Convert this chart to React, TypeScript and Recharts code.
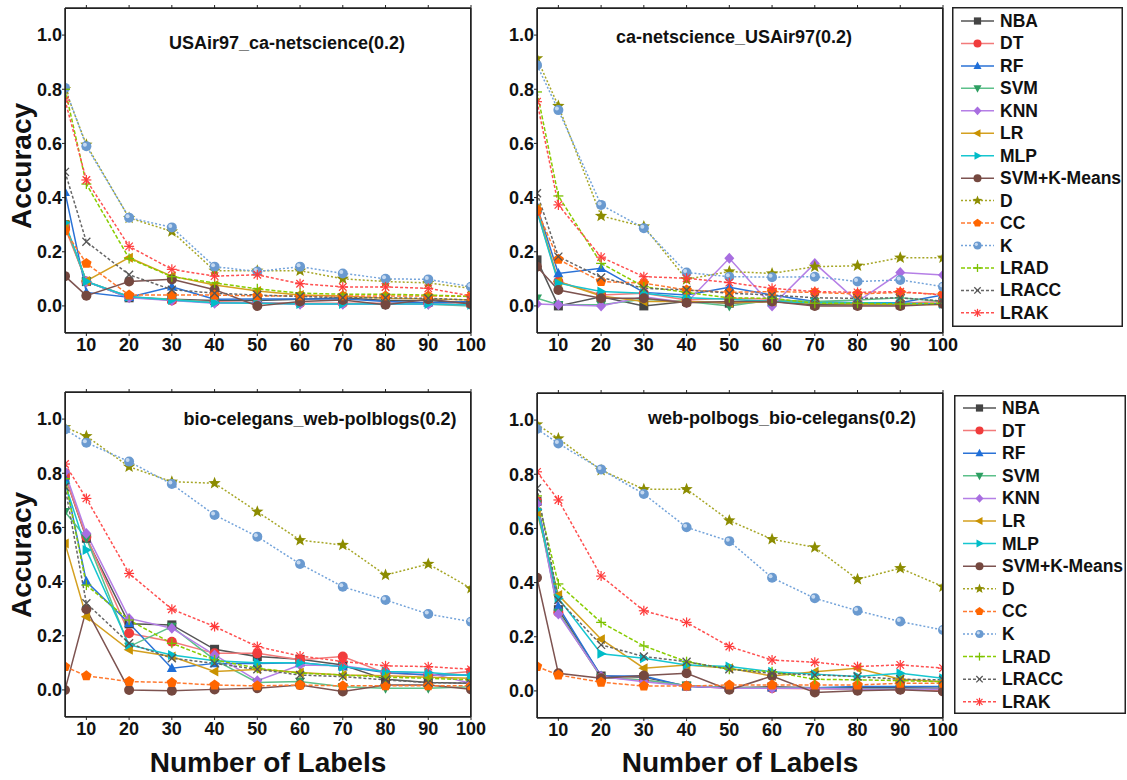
import React from 'react'
import { LineChart, Line, XAxis, YAxis } from 'recharts'

const FONT = '"Liberation Sans", Arial, Helvetica, sans-serif'

// x values (number of labels)
const labelCounts = [5, 10, 20, 30, 40, 50, 60, 70, 80, 90, 100]
const xTicks = [10, 20, 30, 40, 50, 60, 70, 80, 90, 100]
const yTicks = [0, 0.2, 0.4, 0.6, 0.8, 1.0]

const methods = ['NBA', 'DT', 'RF', 'SVM', 'KNN', 'LR', 'MLP', 'SVM+K-Means', 'D', 'CC', 'K', 'LRAD', 'LRACC', 'LRAK']

// accuracy per method, same order as `methods`
const usairCa = [
  [0.3, 0.09, 0.03, 0.025, 0.02, 0.02, 0.025, 0.03, 0.02, 0.02, 0.01],
  [0.29, 0.09, 0.035, 0.02, 0.015, 0.012, 0.01, 0.01, 0.01, 0.01, 0.005],
  [0.42, 0.05, 0.032, 0.071, 0.025, 0.026, 0.026, 0.026, 0.016, 0.012, 0.016],
  [0.3, 0.09, 0.034, 0.025, 0.012, 0.01, 0.008, 0.008, 0.006, 0.006, 0.0],
  [0.3, 0.09, 0.03, 0.02, 0.01, 0.012, 0.006, 0.006, 0.006, 0.006, 0.004],
  [0.3, 0.092, 0.178, 0.11, 0.077, 0.055, 0.04, 0.037, 0.028, 0.026, 0.022],
  [0.307, 0.09, 0.034, 0.022, 0.012, 0.01, 0.007, 0.007, 0.007, 0.007, 0.004],
  [0.11, 0.038, 0.09, 0.098, 0.06, 0.0, 0.016, 0.022, 0.004, 0.025, 0.007],
  [0.8, 0.595, 0.325, 0.275, 0.13, 0.13, 0.13, 0.1, 0.09, 0.085, 0.065],
  [0.277, 0.157, 0.04, 0.04, 0.04, 0.037, 0.037, 0.037, 0.037, 0.037, 0.035],
  [0.805, 0.59, 0.326, 0.29, 0.145, 0.127, 0.145, 0.12, 0.1, 0.098, 0.071],
  [0.8, 0.45, 0.175, 0.108, 0.085, 0.063, 0.047, 0.043, 0.043, 0.04, 0.035],
  [0.495, 0.237, 0.115, 0.06, 0.047, 0.04, 0.035, 0.03, 0.03, 0.028, 0.022],
  [0.76, 0.465, 0.22, 0.135, 0.11, 0.115, 0.082, 0.07, 0.07, 0.065, 0.037],
]

const caUsair = [
  [0.17, 0.0, 0.034, 0.0, 0.016, 0.01, 0.016, 0.004, 0.004, 0.004, 0.01],
  [0.35, 0.09, 0.04, 0.047, 0.022, 0.028, 0.025, 0.012, 0.01, 0.01, 0.016],
  [0.367, 0.12, 0.139, 0.05, 0.04, 0.069, 0.04, 0.016, 0.012, 0.012, 0.04],
  [0.028, 0.004, 0.004, 0.025, 0.016, 0.0, 0.022, 0.016, 0.022, 0.03, 0.016],
  [0.007, 0.004, 0.0, 0.034, 0.012, 0.176, 0.0, 0.157, 0.016, 0.123, 0.114],
  [0.36, 0.09, 0.037, 0.016, 0.016, 0.012, 0.016, 0.01, 0.007, 0.007, 0.004],
  [0.35, 0.084, 0.053, 0.047, 0.03, 0.025, 0.016, 0.012, 0.012, 0.01, 0.007],
  [0.145, 0.059, 0.028, 0.028, 0.012, 0.016, 0.016, 0.0, 0.0, 0.0, 0.007],
  [0.914, 0.738, 0.332, 0.293, 0.098, 0.127, 0.12, 0.145, 0.148, 0.178, 0.178],
  [0.354, 0.172, 0.09, 0.084, 0.059, 0.05, 0.053, 0.05, 0.044, 0.05, 0.043],
  [0.889, 0.723, 0.373, 0.287, 0.123, 0.108, 0.106, 0.108, 0.09, 0.096, 0.071],
  [0.79, 0.406, 0.157, 0.071, 0.05, 0.03, 0.028, 0.01, 0.01, 0.007, 0.01],
  [0.416, 0.182, 0.105, 0.065, 0.059, 0.047, 0.04, 0.03, 0.028, 0.03, 0.018],
  [0.754, 0.373, 0.18, 0.108, 0.102, 0.086, 0.065, 0.053, 0.05, 0.053, 0.04],
]

const bioWeb = [
  [0.79, 0.56, 0.244, 0.24, 0.15, 0.123, 0.113, 0.092, 0.039, 0.027, 0.025],
  [0.79, 0.565, 0.209, 0.178, 0.135, 0.135, 0.111, 0.123, 0.062, 0.055, 0.068],
  [0.78, 0.4, 0.246, 0.08, 0.098, 0.098, 0.1, 0.086, 0.064, 0.055, 0.055],
  [0.658, 0.56, 0.16, 0.234, 0.111, 0.027, 0.031, 0.012, 0.006, 0.006, 0.012],
  [0.806, 0.578, 0.264, 0.228, 0.129, 0.034, 0.092, 0.089, 0.068, 0.062, 0.025],
  [0.541, 0.27, 0.148, 0.123, 0.068, 0.076, 0.064, 0.055, 0.052, 0.047, 0.043],
  [0.763, 0.517, 0.166, 0.129, 0.108, 0.1, 0.1, 0.086, 0.068, 0.064, 0.052],
  [0.0, 0.298, 0.0, -0.003, 0.002, 0.006, 0.018, -0.006, 0.018, 0.018, 0.002],
  [0.97, 0.937, 0.824, 0.769, 0.763, 0.658, 0.553, 0.535, 0.424, 0.465, 0.375],
  [0.086, 0.052, 0.031, 0.027, 0.018, 0.015, 0.018, 0.015, 0.015, 0.015, 0.015],
  [0.962, 0.913, 0.843, 0.76, 0.646, 0.566, 0.465, 0.381, 0.332, 0.28, 0.252],
  [0.78, 0.387, 0.258, 0.172, 0.111, 0.08, 0.062, 0.055, 0.047, 0.043, 0.037],
  [0.75, 0.32, 0.172, 0.117, 0.098, 0.076, 0.055, 0.049, 0.037, 0.027, 0.025],
  [0.834, 0.707, 0.43, 0.298, 0.234, 0.16, 0.125, 0.105, 0.089, 0.086, 0.076],
]

const webBio = [
  [0.7, 0.3, 0.055, 0.05, 0.018, 0.012, 0.015, 0.012, 0.012, 0.012, 0.01],
  [0.7, 0.29, 0.05, 0.04, 0.018, 0.01, 0.01, 0.008, 0.006, 0.006, 0.0],
  [0.7, 0.311, 0.055, 0.055, 0.016, 0.012, 0.012, 0.012, 0.016, 0.016, 0.016],
  [0.69, 0.29, 0.05, 0.04, 0.02, 0.012, 0.012, 0.01, 0.008, 0.008, 0.006],
  [0.69, 0.284, 0.053, 0.034, 0.018, 0.01, 0.01, 0.01, 0.006, 0.006, 0.006],
  [0.66, 0.354, 0.191, 0.084, 0.096, 0.084, 0.055, 0.071, 0.084, 0.043, 0.034],
  [0.67, 0.342, 0.137, 0.121, 0.096, 0.09, 0.071, 0.062, 0.053, 0.065, 0.047],
  [0.418, 0.065, 0.047, 0.057, 0.065, 0.004, 0.055, -0.006, 0.001, 0.004, -0.002],
  [0.984, 0.932, 0.815, 0.745, 0.745, 0.629, 0.56, 0.53, 0.412, 0.453, 0.385],
  [0.09, 0.059, 0.032, 0.018, 0.018, 0.022, 0.022, 0.022, 0.022, 0.028, 0.028],
  [0.967, 0.914, 0.818, 0.727, 0.604, 0.553, 0.418, 0.342, 0.296, 0.256, 0.225],
  [0.72, 0.395, 0.253, 0.166, 0.108, 0.08, 0.071, 0.043, 0.041, 0.038, 0.034],
  [0.748, 0.336, 0.17, 0.127, 0.108, 0.08, 0.065, 0.059, 0.053, 0.043, 0.041],
  [0.809, 0.705, 0.424, 0.296, 0.253, 0.164, 0.114, 0.106, 0.09, 0.096, 0.084],
]

type Style = { line: string; mark: string; shape: string; dash?: string }

const styles: Style[] = [
  { line: '#555555', mark: '#444444', shape: 'square' },
  { line: '#f27a7a', mark: '#f03c3c', shape: 'circle' },
  { line: '#2a72d6', mark: '#1f6fd8', shape: 'triUp' },
  { line: '#5cc08a', mark: '#2e9e62', shape: 'triDown' },
  { line: '#b57fe6', mark: '#a86ee0', shape: 'diamond' },
  { line: '#d4a020', mark: '#c99200', shape: 'triLeft' },
  { line: '#16c6d0', mark: '#00bcc8', shape: 'triRight' },
  { line: '#7d5350', mark: '#75483f', shape: 'circle' },
  { line: '#a6a626', mark: '#8c8c00', shape: 'star', dash: '2 2' },
  { line: '#ff7a30', mark: '#ff6600', shape: 'pentagon', dash: '4 2' },
  { line: '#73a3da', mark: '#6a9ad0', shape: 'sphere', dash: '2 2' },
  { line: '#88cc00', mark: '#7ac000', shape: 'plus', dash: '4 2' },
  { line: '#666666', mark: '#555555', shape: 'cross', dash: '3 2' },
  { line: '#ff5050', mark: '#ff3b3b', shape: 'asterisk', dash: '3 2' },
]

const polyPts = (cx: number, cy: number, r: number, n: number, inner?: number) => {
  const pts: string[] = []
  const count = inner ? n * 2 : n
  for (let i = 0; i < count; i++) {
    const rr = inner && i % 2 === 1 ? inner : r
    const a = -Math.PI / 2 + (i * Math.PI * 2) / count
    pts.push(`${cx + rr * Math.cos(a)},${cy + rr * Math.sin(a)}`)
  }
  return pts.join(' ')
}

const Marker = ({ shape, cx, cy, color, s = 1 }: { shape: string; cx: number; cy: number; color: string; s?: number }) => {
  const r = 5 * s
  switch (shape) {
    case 'square':
      return <rect x={cx - r * 0.9} y={cy - r * 0.9} width={r * 1.8} height={r * 1.8} fill={color} />
    case 'circle':
      return <circle cx={cx} cy={cy} r={r} fill={color} />
    case 'triUp':
      return <polygon points={`${cx},${cy - r * 1.1} ${cx + r},${cy + r * 0.75} ${cx - r},${cy + r * 0.75}`} fill={color} />
    case 'triDown':
      return <polygon points={`${cx},${cy + r * 1.1} ${cx + r},${cy - r * 0.75} ${cx - r},${cy - r * 0.75}`} fill={color} />
    case 'triLeft':
      return <polygon points={`${cx - r * 1.1},${cy} ${cx + r * 0.75},${cy - r} ${cx + r * 0.75},${cy + r}`} fill={color} />
    case 'triRight':
      return <polygon points={`${cx + r * 1.1},${cy} ${cx - r * 0.75},${cy - r} ${cx - r * 0.75},${cy + r}`} fill={color} />
    case 'diamond':
      return <polygon points={`${cx},${cy - r * 1.1} ${cx + r},${cy} ${cx},${cy + r * 1.1} ${cx - r},${cy}`} fill={color} />
    case 'star':
      return <polygon points={polyPts(cx, cy, r * 1.3, 5, r * 0.55)} fill={color} />
    case 'pentagon':
      return <polygon points={polyPts(cx, cy, r * 1.1, 5)} fill={color} />
    case 'sphere':
      return (
        <g>
          <circle cx={cx} cy={cy} r={r} fill={color} />
          <circle cx={cx - r * 0.3} cy={cy - r * 0.3} r={r * 0.4} fill="#dce9f7" opacity={0.8} />
        </g>
      )
    case 'plus':
      return (
        <g stroke={color} strokeWidth={1.3}>
          <line x1={cx - r} y1={cy} x2={cx + r} y2={cy} />
          <line x1={cx} y1={cy - r} x2={cx} y2={cy + r} />
        </g>
      )
    case 'cross':
      return (
        <g stroke={color} strokeWidth={1.3}>
          <line x1={cx - r * 0.8} y1={cy - r * 0.8} x2={cx + r * 0.8} y2={cy + r * 0.8} />
          <line x1={cx - r * 0.8} y1={cy + r * 0.8} x2={cx + r * 0.8} y2={cy - r * 0.8} />
        </g>
      )
    case 'asterisk':
      return (
        <g stroke={color} strokeWidth={1.2}>
          <line x1={cx - r} y1={cy} x2={cx + r} y2={cy} />
          <line x1={cx} y1={cy - r} x2={cx} y2={cy + r} />
          <line x1={cx - r * 0.75} y1={cy - r * 0.75} x2={cx + r * 0.75} y2={cy + r * 0.75} />
          <line x1={cx - r * 0.75} y1={cy + r * 0.75} x2={cx + r * 0.75} y2={cy - r * 0.75} />
        </g>
      )
    default:
      return null
  }
}

const PLOT_W = 406
const PLOT_H = 325
const ML = 60
const MT = 10
const MR = 24
const XH = 40

const tickStyle = { fill: '#111', fontSize: 18, fontWeight: 'bold' as const, fontFamily: FONT }
const axisLine = { stroke: '#222', strokeWidth: 1.5 }

const Panel = ({ left, top, values, title, tx, ty }: { left: number; top: number; values: number[][]; title: string; tx: number; ty: number }) => {
  const rows = labelCounts.map((x, i) => {
    const row: Record<string, number> = { x }
    methods.forEach((m, k) => {
      row[m] = values[k][i]
    })
    return row
  })
  return (
    <>
      <div style={{ position: 'absolute', left: left - ML, top: top - MT - 1 }}>
        <LineChart width={ML + PLOT_W + 1 + MR} height={MT + 1 + PLOT_H + XH} data={rows} margin={{ top: MT, right: MR, left: 0, bottom: 0 }}>
          <XAxis dataKey="x" type="number" domain={[5, 100]} ticks={xTicks} allowDataOverflow height={XH} tick={tickStyle} tickSize={3} tickMargin={2} axisLine={axisLine} tickLine={{ stroke: '#222' }} />
          <XAxis xAxisId="top" orientation="top" dataKey="x" type="number" domain={[5, 100]} ticks={xTicks} height={1} tick={{ fontSize: 1, fill: 'transparent' }} tickFormatter={() => ''} tickSize={3} axisLine={axisLine} tickLine={{ stroke: '#222' }} />
          <YAxis type="number" domain={[-0.1, 1.1]} ticks={yTicks} allowDataOverflow width={ML} tick={tickStyle} tickSize={3} tickMargin={0} tickFormatter={(v: number) => v.toFixed(1)} axisLine={axisLine} tickLine={{ stroke: '#222' }} />
          <YAxis yAxisId="right" orientation="right" type="number" domain={[-0.1, 1.1]} ticks={yTicks} width={1} tick={{ fontSize: 1, fill: 'transparent' }} tickFormatter={() => ''} tickSize={3} axisLine={axisLine} tickLine={{ stroke: '#222' }} />
          {methods.map((m, k) => {
            const st = styles[k]
            return (
              <Line
                key={m}
                type="linear"
                dataKey={m}
                stroke={st.line}
                strokeWidth={1.5}
                strokeDasharray={st.dash}
                isAnimationActive={false}
                activeDot={false}
                dot={(p: any) =>
                  p.cx == null ? <g key={`${m}-${p.index}`} /> : (
                    <g key={`${m}-${p.index}`}>
                      <Marker shape={st.shape} cx={p.cx} cy={p.cy} color={st.mark} />
                    </g>
                  )
                }
              />
            )
          })}
        </LineChart>
      </div>
      <div style={{ position: 'absolute', left: left, top: top, width: PLOT_W, height: PLOT_H, border: '1.5px solid #222', boxSizing: 'border-box', pointerEvents: 'none' }} />
      <div style={{ position: 'absolute', left: tx, top: ty, transform: 'translate(-50%, -50%)', fontFamily: FONT, fontWeight: 'bold', fontSize: 18, whiteSpace: 'nowrap', color: '#111' }}>{title}</div>
    </>
  )
}

const Legend = ({ left, top, width, height, first, step }: { left: number; top: number; width: number; height: number; first: number; step: number }) => (
  <svg style={{ position: 'absolute', left, top }} width={width} height={height}>
    <rect x={0.75} y={0.75} width={width - 1.5} height={height - 1.5} fill="#fff" stroke="#222" strokeWidth={1.5} />
    {methods.map((m, k) => {
      const st = styles[k]
      const y = first + k * step
      return (
        <g key={m}>
          <line x1={9} y1={y} x2={42} y2={y} stroke={st.line} strokeWidth={1.5} strokeDasharray={st.dash} />
          <Marker shape={st.shape} cx={25.5} cy={y} color={st.mark} s={0.8} />
          <text x={48} y={y} dominantBaseline="central" fontFamily={FONT} fontWeight="bold" fontSize={17.5} fill="#111">
            {m}
          </text>
        </g>
      )
    })}
  </svg>
)

const axisTitle = { position: 'absolute' as const, fontFamily: FONT, fontWeight: 'bold' as const, fontSize: 28, whiteSpace: 'nowrap' as const, color: '#111' }

export default function App() {
  return (
    <div style={{ position: 'absolute', left: 0, top: 0, width: 1127, height: 780, background: '#fff', overflow: 'hidden' }}>
      <Panel left={65} top={8} values={usairCa} title="USAir97_ca-netscience(0.2)" tx={287} ty={43} />
      <Panel left={537} top={8} values={caUsair} title="ca-netscience_USAir97(0.2)" tx={734} ty={37} />
      <Panel left={65} top={392} values={bioWeb} title="bio-celegans_web-polblogs(0.2)" tx={320} ty={419} />
      <Panel left={537} top={393} values={webBio} title="web-polbogs_bio-celegans(0.2)" tx={782} ty={418} />
      <Legend left={952} top={7} width={171} height={320} first={14} step={22.45} />
      <Legend left={954} top={395} width={172} height={319} first={13} step={22.6} />
      <div style={{ ...axisTitle, left: 22, top: 166, transform: 'translate(-50%, -50%) rotate(-90deg)' }}>Accuracy</div>
      <div style={{ ...axisTitle, left: 22, top: 555, transform: 'translate(-50%, -50%) rotate(-90deg)' }}>Accuracy</div>
      <div style={{ ...axisTitle, left: 268, top: 763, transform: 'translate(-50%, -50%)' }}>Number of Labels</div>
      <div style={{ ...axisTitle, left: 740, top: 763, transform: 'translate(-50%, -50%)' }}>Number of Labels</div>
    </div>
  )
}
